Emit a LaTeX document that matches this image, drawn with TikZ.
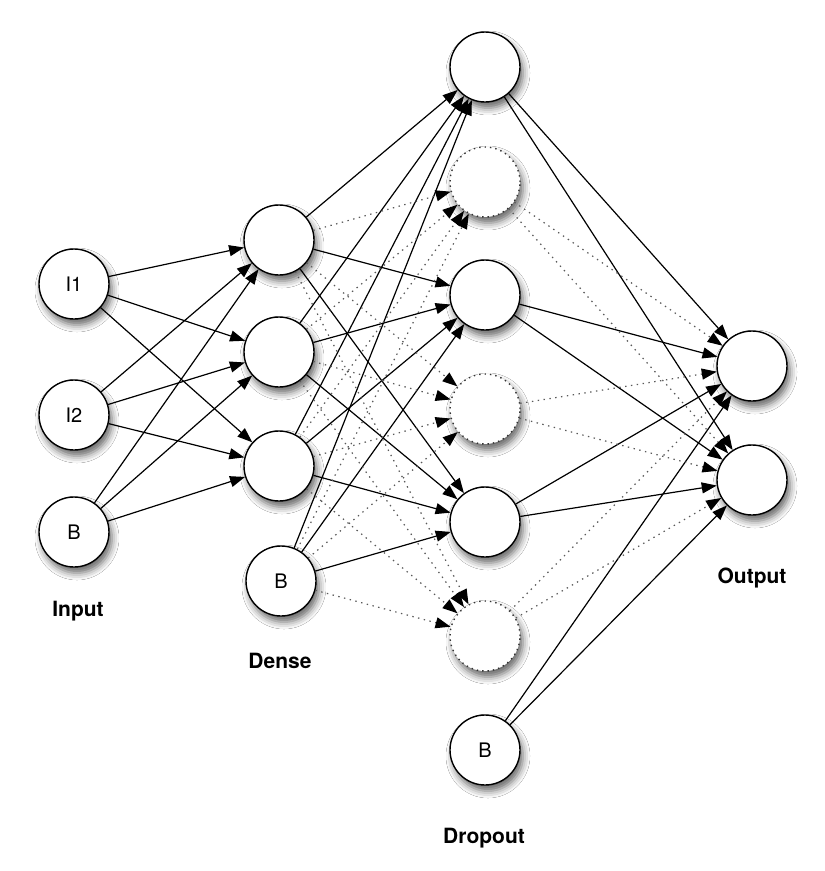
\documentclass[tikz,border=0pt]{standalone}
\usepackage{fontspec}
\setmainfont{TeX Gyre Heros}
\usetikzlibrary{arrows.meta,shadows.blur}
\begin{document}
\begin{tikzpicture}[x=1pt,y=-1pt,
  neuron/.style={circle,draw=black,line width=1.4pt,fill=white,minimum size=70pt,inner sep=0pt,
    font=\fontsize{20}{20}\selectfont,
    blur shadow={shadow xshift=3pt,shadow yshift=-6pt,shadow blur radius=7pt,shadow opacity=60}},
  dropped/.style={neuron,draw=black!80,dash pattern=on 1.4pt off 4pt},
  conn/.style={line width=1.2pt,-{Triangle[length=15pt,width=11pt,color=black]}},
  dconn/.style={conn,draw=black!65,dash pattern=on 1.4pt off 4.5pt},
  layerlabel/.style={font=\bfseries\fontsize{21}{21}\selectfont}]
\useasboundingbox[fill=white] (0,0) rectangle (825,871);
% input layer
\node[neuron] (i1) at (74,284) {I1};
\node[neuron] (i2) at (74,415) {I2};
\node[neuron] (ib) at (74,532) {B};
% dense layer
\node[neuron] (d1) at (279,240) {};
\node[neuron] (d2) at (279,352) {};
\node[neuron] (d3) at (279,466) {};
\node[neuron] (db) at (281,581) {B};
% dropout layer
\node[neuron]  (p1) at (485,67) {};
\node[dropped] (p2) at (485,182) {};
\node[neuron]  (p3) at (485,295) {};
\node[dropped] (p4) at (485,409) {};
\node[neuron]  (p5) at (485,522) {};
\node[dropped] (p6) at (485,636) {};
\node[neuron]  (pb) at (485,750) {B};
% output layer
\node[neuron] (o1) at (752,366) {};
\node[neuron] (o2) at (752,480) {};
% labels
\node[layerlabel] (linput) at (78,611) {Input};
\node[layerlabel] (ldense) at (280,661) {Dense};
\node[layerlabel] (ldrop) at (484,838) {Dropout};
\node[layerlabel] (lout) at (752,578) {Output};
% input -> dense
\foreach \s in {i1,i2,ib}
  \foreach \t in {d1,d2,d3}
    \draw[conn] (\s) -- (\t);
% dense -> dropout (kept)
\foreach \s in {d1,d2,d3,db}
  \foreach \t in {p1,p3,p5}
    \draw[conn] (\s) -- (\t);
% dense -> dropout (dropped)
\foreach \s in {d1,d2,d3,db}
  \foreach \t in {p2,p4,p6}
    \draw[dconn] (\s) -- (\t);
% dropout -> output
\foreach \s in {p1,p3,p5,pb}
  \foreach \t in {o1,o2}
    \draw[conn] (\s) -- (\t);
\foreach \s in {p2,p4,p6}
  \foreach \t in {o1,o2}
    \draw[dconn] (\s) -- (\t);
\end{tikzpicture}
\end{document}
